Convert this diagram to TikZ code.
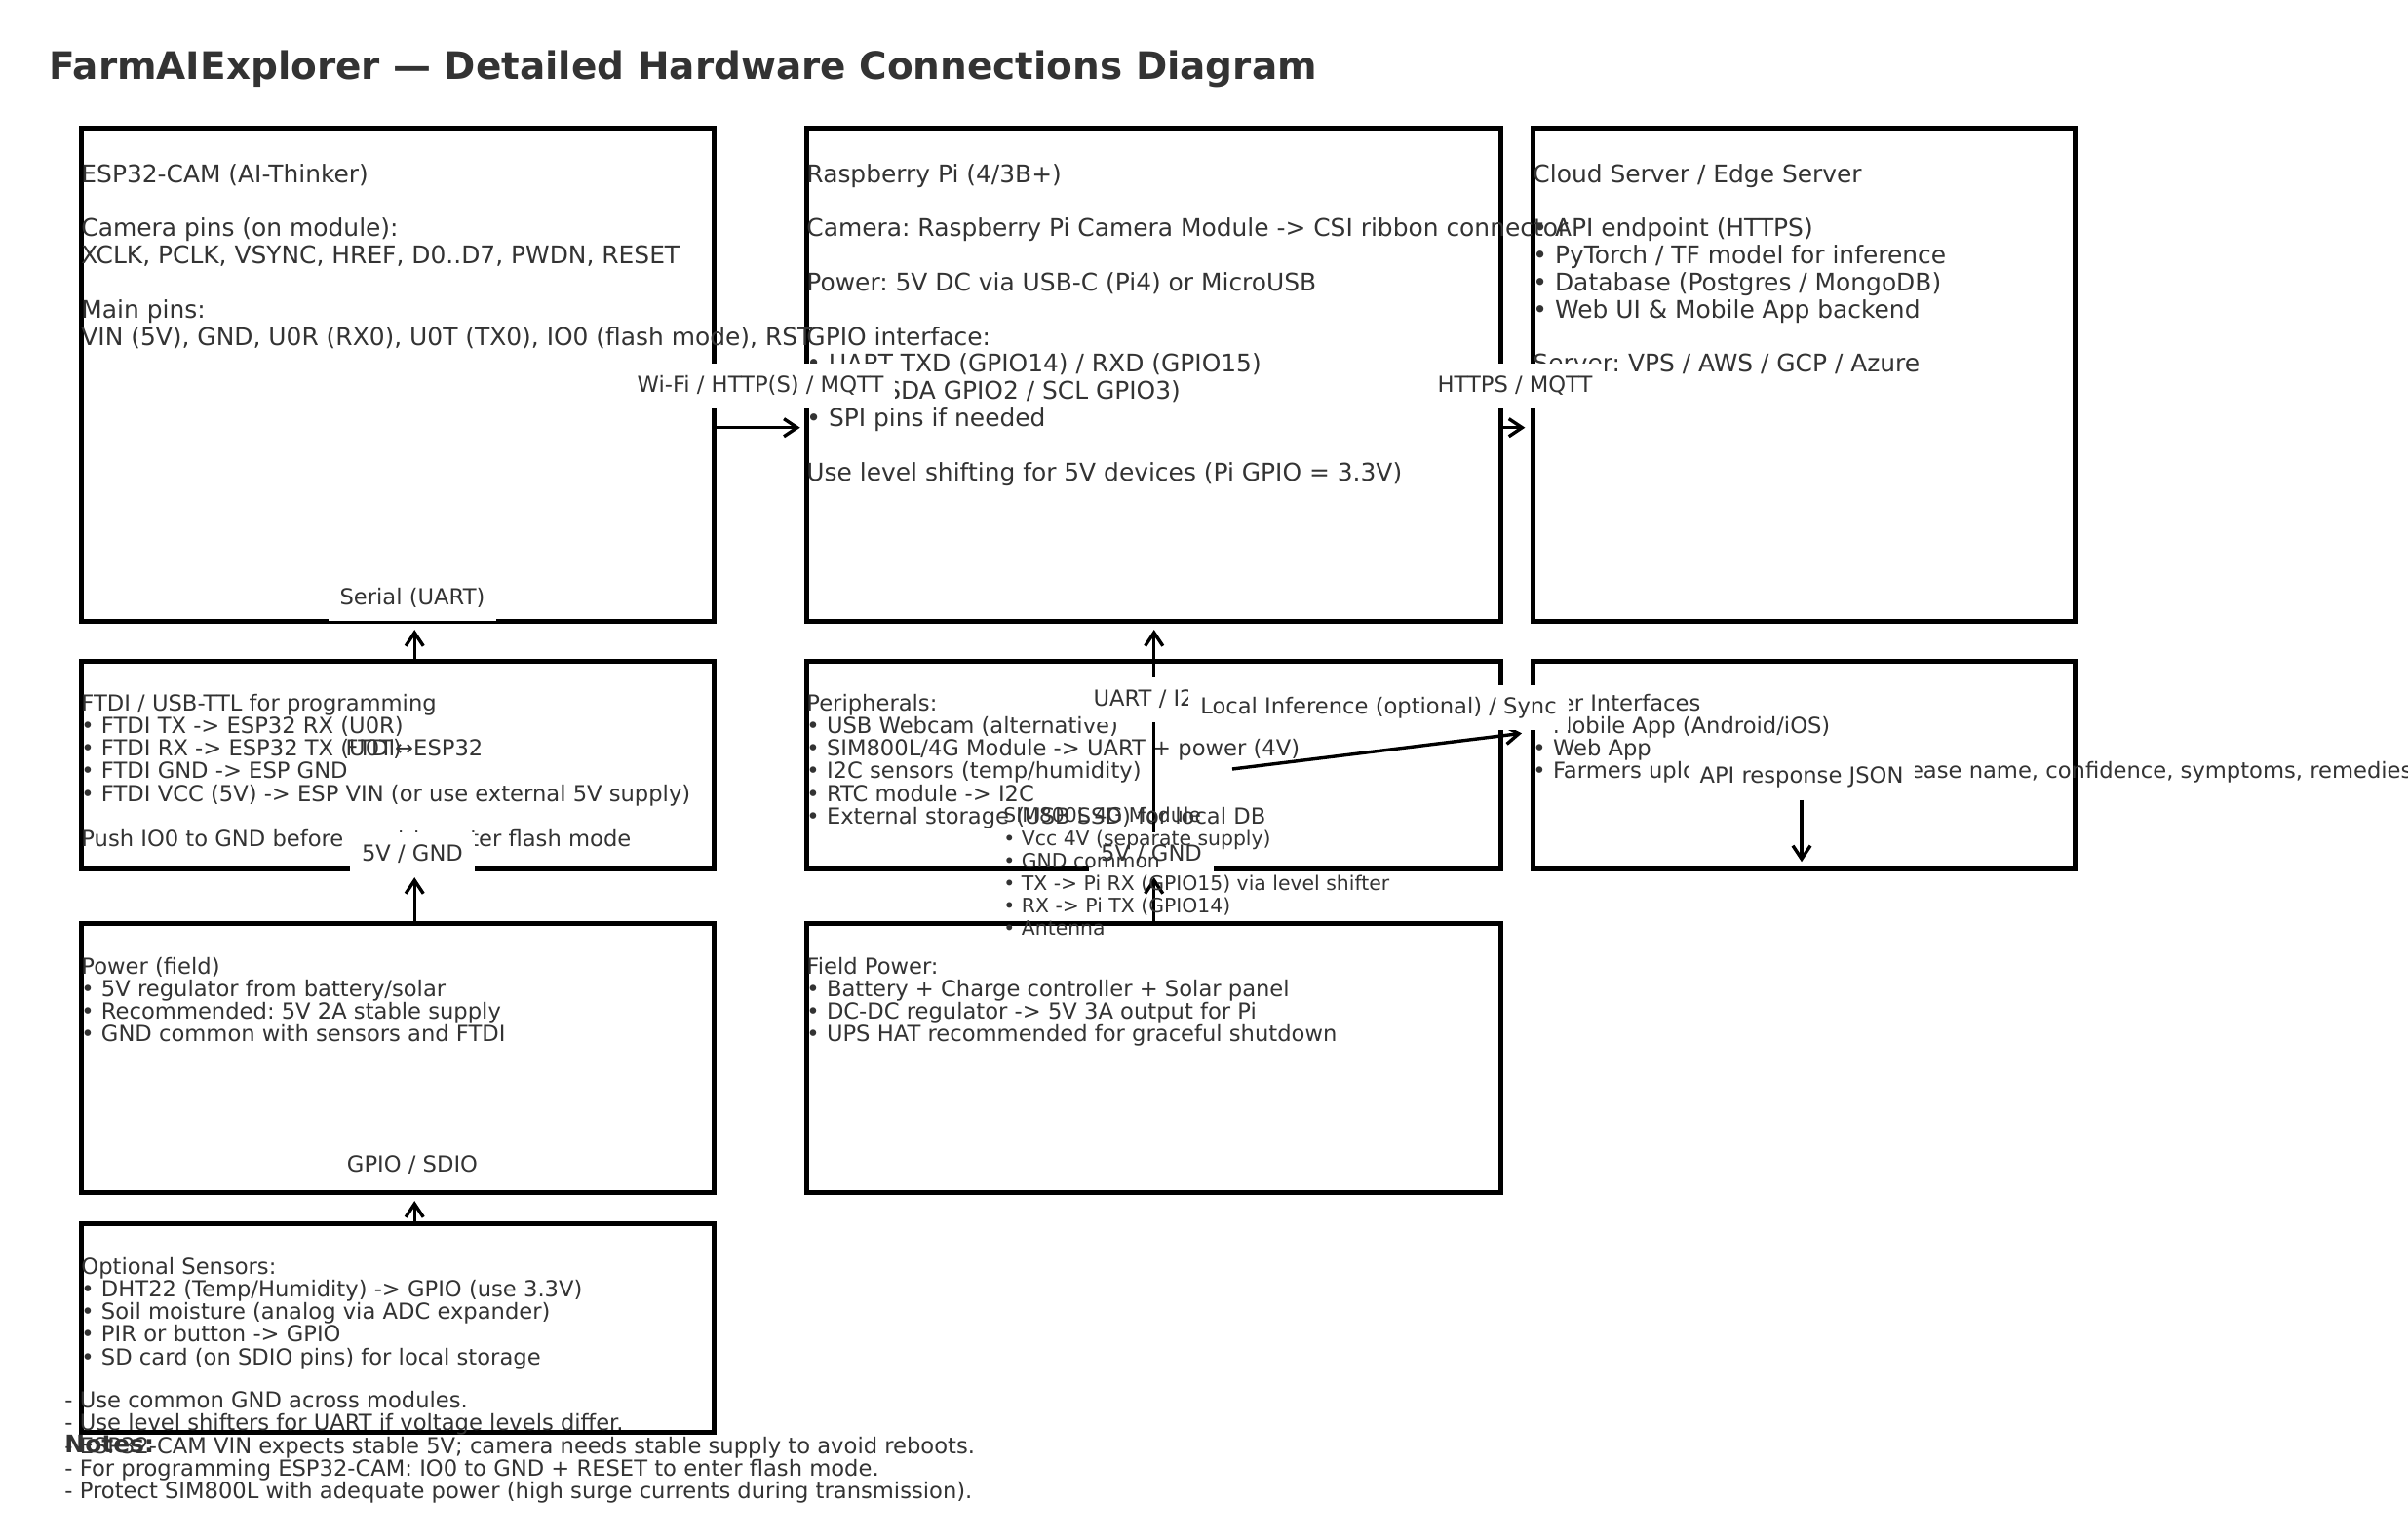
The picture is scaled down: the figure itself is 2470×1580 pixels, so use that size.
\documentclass[tikz,border=0pt]{standalone}
\usepackage{fontspec}
\setmainfont{DejaVu Sans}
\usetikzlibrary{arrows.meta,calc}
\definecolor{ink}{HTML}{333333}
\newcommand{\pxu}{0.4417pt}
\frenchspacing
\tikzset{
  hwbox/.style={draw=black, line width=2.4pt, anchor=north west, inner sep=0pt},
  bigtxt/.style={anchor=north west, align=left, inner sep=0pt, text=ink,
    font=\fontsize{11}{12.28}\selectfont},
  smalltxt/.style={bigtxt, font=\fontsize{10}{10.2}\selectfont},
  simtxt/.style={bigtxt, font=\fontsize{9}{10.25}\selectfont},
  lbl/.style={fill=white, text=ink, anchor=base, font=\fontsize{10}{12}\selectfont,
    inner xsep=5.3pt, inner ysep=5.3pt, text height=7.6pt, text depth=2.4pt},
  arr/.style={-{Straight Barb[length=6pt,width=8pt]}, line width=1.5pt, shorten >=2.5pt}
}
\begin{document}
\begin{tikzpicture}[x=0.4417pt, y=-0.4417pt]
    \useasboundingbox (0,0) rectangle (2470,1580);
    \node[anchor=base west, inner sep=0pt, text=ink, font=\fontsize{17.2}{20}\selectfont\bfseries] (title) at (50,82)
        {FarmAIExplorer — Detailed Hardware Connections Diagram};

    \node[hwbox, minimum width=649*\pxu, minimum height=506*\pxu] (esp) at (81,129) {};
    \node[hwbox, minimum width=712*\pxu, minimum height=506*\pxu] (pi) at (825,129) {};
    \node[hwbox, minimum width=556*\pxu, minimum height=506*\pxu] (cloud) at (1570,129) {};
    \node[hwbox, minimum width=649*\pxu, minimum height=213*\pxu] (ftdi) at (81,676) {};
    \node[hwbox, minimum width=712*\pxu, minimum height=213*\pxu] (periph) at (825,676) {};
    \node[hwbox, minimum width=556*\pxu, minimum height=213*\pxu] (ui) at (1570,676) {};
    \node[hwbox, minimum width=649*\pxu, minimum height=276*\pxu] (pwr) at (81,945) {};
    \node[hwbox, minimum width=712*\pxu, minimum height=276*\pxu] (fpwr) at (825,945) {};
    \node[hwbox, minimum width=649*\pxu, minimum height=214*\pxu] (sens) at (81,1253) {};

    \node[bigtxt] (esptxt) at (83,168) {ESP32-CAM (AI-Thinker)\\ \\Camera pins (on module):\\
        XCLK, PCLK, VSYNC, HREF, D0..D7, PWDN, RESET\\ \\Main pins:\\
        VIN (5V), GND, U0R (RX0), U0T (TX0), IO0 (flash mode), RST};
    \node[bigtxt] (pitxt) at (827,168) {Raspberry Pi (4/3B+)\\ \\
        Camera: Raspberry Pi Camera Module -> CSI ribbon connector\\ \\
        Power: 5V DC via USB-C (Pi4) or MicroUSB\\ \\GPIO interface:\\
        • UART TXD (GPIO14) / RXD (GPIO15)\\• I2C (SDA GPIO2 / SCL GPIO3)\\
        • SPI pins if needed\\ \\Use level shifting for 5V devices (Pi GPIO = 3.3V)};
    \node[bigtxt] (cloudtxt) at (1572,168) {Cloud Server / Edge Server\\ \\
        • API endpoint (HTTPS)\\• PyTorch / TF model for inference\\
        • Database (Postgres / MongoDB)\\• Web UI \& Mobile App backend\\ \\
        Server: VPS / AWS / GCP / Azure};
    \node[smalltxt] (ftditxt) at (83,712) {FTDI / USB-TTL for programming\\
        • FTDI TX -> ESP32 RX (U0R)\\• FTDI RX -> ESP32 TX (U0T)\\
        • FTDI GND -> ESP GND\\• FTDI VCC (5V) -> ESP VIN (or use external 5V supply)\\ \\
        Push IO0 to GND before reset to enter flash mode};
    \node[smalltxt] (periphtxt) at (827,712) {Peripherals:\\• USB Webcam (alternative)\\
        • SIM800L/4G Module -> UART + power (4V)\\• I2C sensors (temp/humidity)\\
        • RTC module -> I2C\\• External storage (USB SSD) for local DB};
    \node[smalltxt] (uitxt) at (1572,712) {User Interfaces\\• Mobile App (Android/iOS)\\
        • Web App\\• Farmers upload photo -> get disease name, confidence, symptoms, remedies};
    \node[smalltxt] (pwrtxt) at (83,982) {Power (field)\\• 5V regulator from battery/solar\\
        • Recommended: 5V 2A stable supply\\• GND common with sensors and FTDI};
    \node[smalltxt] (fpwrtxt) at (827,982) {Field Power:\\• Battery + Charge controller + Solar panel\\
        • DC-DC regulator -> 5V 3A output for Pi\\• UPS HAT recommended for graceful shutdown};
    \node[smalltxt] (senstxt) at (83,1290) {Optional Sensors:\\
        • DHT22 (Temp/Humidity) -> GPIO (use 3.3V)\\• Soil moisture (analog via ADC expander)\\
        • PIR or button -> GPIO\\• SD card (on SDIO pins) for local storage};

    \coordinate (infsrc) at (1264,789);
    \draw[arr, shorten >=1.9pt] ($(esp.east)+(0,54)$) -- ($(pi.west)+(0,54)$);
    \draw[arr] ($(pi.east)+(0,54)$) -- ($(cloud.west)+(0,54)$);
    \draw[arr] ($(ftdi.north)+(17,0)$) -- ($(esp.south)+(17,0)$);
    \draw[arr] ($(pwr.north)+(17,0)$) -- ($(ftdi.south)+(17,0)$);
    \draw[arr] ($(sens.north)+(17,0)$) -- ($(pwr.south)+(17,0)$);
    \draw[arr] (periph.south) -- (pi.south);
    \draw[arr] (fpwr.north) -- (periph.south);
    \draw[arr, shorten >=4pt] (infsrc) -- ($(ui.west)+(0,-34)$);

    \node[lbl] (lblwifi) at (780,402) {Wi-Fi / HTTP(S) / MQTT};
    \node[lbl] (lblhttps) at (1554,402) {HTTPS / MQTT};
    \node[lbl] (lblserial) at (423,620) {Serial (UART)};
    \node[lbl] (lblgnda) at (423,883) {5V / GND};
    \node[lbl] (lblgpio) at (423,1202) {GPIO / SDIO};
    \node[lbl] (lbluart) at (1181,724) {UART / I2C};
    \node[lbl] (lblgndb) at (1181,883) {5V / GND};
    \node[lbl] (lblinf) at (1414,732) {Local Inference (optional) / Sync};
    \node[lbl] (lblapi) at (1848,803) {API response JSON};
    \draw[arr, shorten >=4.5pt] (lblapi.south) -- (lblapi |- ui.south);

    \node[anchor=base, inner sep=0pt, text=ink, font=\fontsize{10}{12}\selectfont] (ftdiesp) at (425,775) {FTDI↔ESP32};
    \node[simtxt] (simtxt) at (1029,828) {SIM800L 4G Module\\• Vcc 4V (separate supply)\\
        • GND common\\• TX -> Pi RX (GPIO15) via level shifter\\• RX -> Pi TX (GPIO14)\\• Antenna};

    \node[bigtxt, font=\fontsize{10}{10.3}\selectfont] (notes) at (66,1427)
        {- Use common GND across modules.\\- Use level shifters for UART if voltage levels differ.\\
        - ESP32-CAM VIN expects stable 5V; camera needs stable supply to avoid reboots.\\
        - For programming ESP32-CAM: IO0 to GND + RESET to enter flash mode.\\
        - Protect SIM800L with adequate power (high surge currents during transmission).};
    \node[anchor=base west, inner sep=0pt, text=ink, font=\fontsize{11}{13}\selectfont\bfseries] (notestitle) at (66,1490) {Notes:};
\end{tikzpicture}
\end{document}
